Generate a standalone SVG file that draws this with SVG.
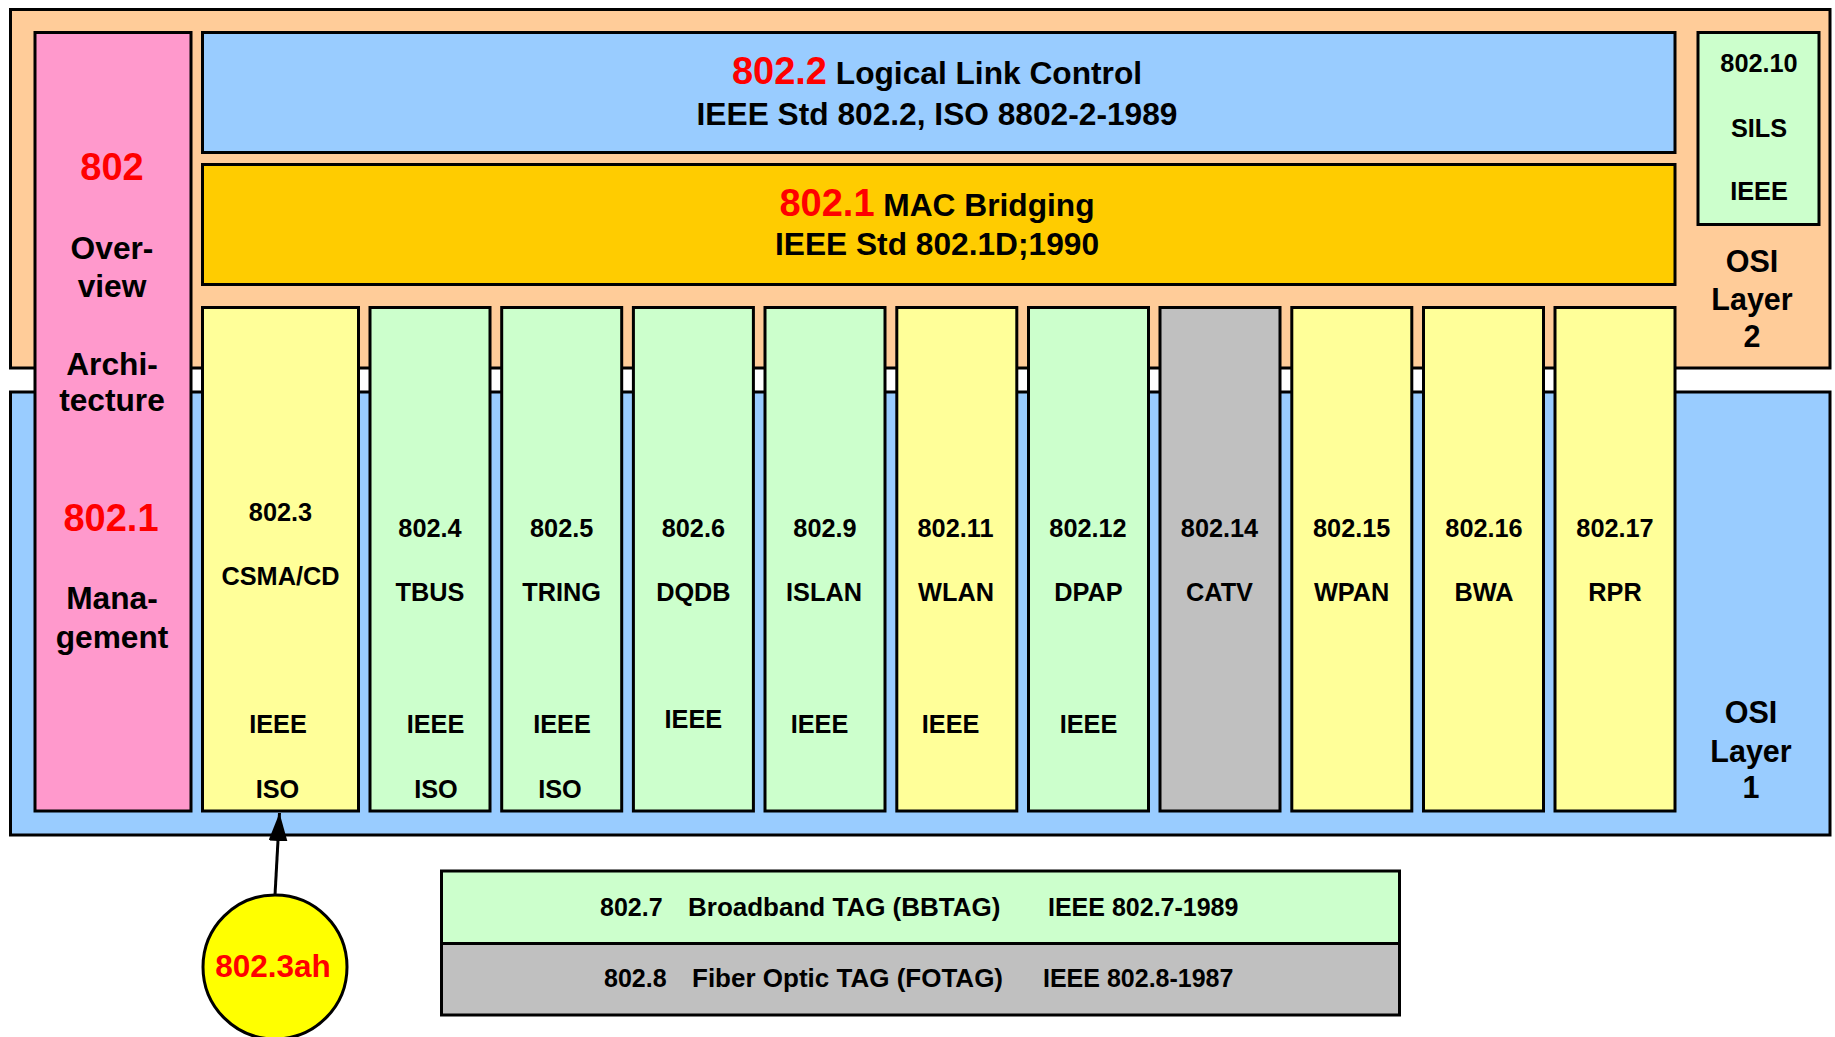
<svg xmlns="http://www.w3.org/2000/svg" width="1835" height="1037" viewBox="0 0 1835 1037">
<style>
.box{stroke:#000;stroke-width:3}
.or{fill:#FFCC99}.bl{fill:#99CCFF}.pk{fill:#FF99CC}.gd{fill:#FFCC00}
.yl{fill:#FFFF99}.gr{fill:#CCFFCC}.gy{fill:#C0C0C0}.cy{fill:#FFFF00}
text{font-family:"Liberation Sans",Arial,Helvetica,sans-serif;font-weight:bold;fill:#000;text-anchor:middle}
.c{font-size:25.3px}
.m{font-size:31.7px}
.o{font-size:30.5px}
.r{fill:#FF0000}
.big{font-size:38px}
.ah{font-size:31.5px}
.tag{font-size:25px;text-anchor:start}
.w{font-size:26px}
</style>
<defs>
<marker id="arr" markerUnits="userSpaceOnUse" markerWidth="30" markerHeight="20" refX="28" refY="9.5" orient="auto">
<path d="M0,0 L28,9.5 L0,19 Z" fill="#000"/>
</marker>
</defs>

<g id="osi-layer2">
<rect class="box or" x="10.5" y="9.5" width="1819.5" height="358.5"/>
<text class="o" x="1752" y="272">OSI</text>
<text class="o" x="1752" y="310">Layer</text>
<text class="o" x="1752" y="347">2</text>
</g>

<g id="osi-layer1">
<rect class="box bl" x="10.5" y="392" width="1819.5" height="443"/>
<text class="o" x="1751" y="723">OSI</text>
<text class="o" x="1751" y="762">Layer</text>
<text class="o" x="1751" y="798">1</text>
</g>

<g id="n802">
<rect class="box pk" x="35" y="32.5" width="156" height="778.5"/>
<text class="big r" x="112" y="180">802</text>
<text class="m" x="112" y="259">Over-</text>
<text class="m" x="112" y="297">view</text>
<text class="m" x="112" y="375">Archi-</text>
<text class="m" x="112" y="411">tecture</text>
<text class="big r" x="111" y="531">802.1</text>
<text class="m" x="112" y="609">Mana-</text>
<text class="m" x="112" y="648">gement</text>
</g>

<g id="n802-2">
<rect class="box bl" x="202.5" y="32.5" width="1472.5" height="120"/>
<text class="m" x="937" y="84"><tspan class="big r">802.2</tspan> Logical Link Control</text>
<text class="m" x="937" y="125">IEEE Std 802.2, ISO 8802-2-1989</text>
</g>

<g id="n802-1">
<rect class="box gd" x="202.5" y="164.5" width="1472.5" height="120"/>
<text class="m" x="937" y="216"><tspan class="big r">802.1</tspan> MAC Bridging</text>
<text class="m" x="937" y="255">IEEE Std 802.1D;1990</text>
</g>

<g id="n802-10">
<rect class="box gr" x="1698" y="32.5" width="121" height="192"/>
<text class="c" x="1759" y="72">802.10</text>
<text class="c" x="1759" y="137">SILS</text>
<text class="c" x="1759" y="200">IEEE</text>
</g>

<g id="n802-3">
<rect class="box yl" x="202.5" y="307.5" width="156" height="503.5"/>
<text class="c" x="280.5" y="521">802.3</text>
<text class="c" x="280.5" y="585">CSMA/CD</text>
<text class="c" x="278" y="733">IEEE</text>
<text class="c" x="277.5" y="798">ISO</text>
</g>

<g id="n802-4">
<rect class="box gr" x="370" y="307.5" width="120" height="503.5"/>
<text class="c" x="430" y="537">802.4</text>
<text class="c" x="430" y="601">TBUS</text>
<text class="c" x="435.5" y="733">IEEE</text>
<text class="c" x="436" y="798">ISO</text>
</g>

<g id="n802-5">
<rect class="box gr" x="501.7" y="307.5" width="120" height="503.5"/>
<text class="c" x="561.7" y="537">802.5</text>
<text class="c" x="561.7" y="601">TRING</text>
<text class="c" x="562" y="733">IEEE</text>
<text class="c" x="560" y="798">ISO</text>
</g>

<g id="n802-6">
<rect class="box gr" x="633.4" y="307.5" width="120" height="503.5"/>
<text class="c" x="693.4" y="537">802.6</text>
<text class="c" x="693.4" y="601">DQDB</text>
<text class="c" x="693.4" y="728">IEEE</text>
</g>

<g id="n802-9">
<rect class="box gr" x="765" y="307.5" width="120" height="503.5"/>
<text class="c" x="825" y="537">802.9</text>
<text class="c" x="824" y="601">ISLAN</text>
<text class="c" x="819.5" y="733">IEEE</text>
</g>

<g id="n802-11">
<rect class="box yl" x="896.8" y="307.5" width="120" height="503.5"/>
<text class="c" x="955.5" y="537">802.11</text>
<text class="c" x="956" y="601">WLAN</text>
<text class="c" x="950.6" y="733">IEEE</text>
</g>

<g id="n802-12">
<rect class="box gr" x="1028.5" y="307.5" width="120" height="503.5"/>
<text class="c" x="1088" y="537">802.12</text>
<text class="c" x="1088.5" y="601">DPAP</text>
<text class="c" x="1088.5" y="733">IEEE</text>
</g>

<g id="n802-14">
<rect class="box gy" x="1160" y="307.5" width="120" height="503.5"/>
<text class="c" x="1219.5" y="537">802.14</text>
<text class="c" x="1219.5" y="601">CATV</text>
</g>

<g id="n802-15">
<rect class="box yl" x="1291.8" y="307.5" width="120" height="503.5"/>
<text class="c" x="1351.7" y="537">802.15</text>
<text class="c" x="1351.7" y="601">WPAN</text>
</g>

<g id="n802-16">
<rect class="box yl" x="1423.5" y="307.5" width="120" height="503.5"/>
<text class="c" x="1484" y="537">802.16</text>
<text class="c" x="1484" y="601">BWA</text>
</g>

<g id="n802-17">
<rect class="box yl" x="1555" y="307.5" width="120" height="503.5"/>
<text class="c" x="1615" y="537">802.17</text>
<text class="c" x="1615" y="601">RPR</text>
</g>

<g id="n802-7">
<rect class="box gr" x="441.5" y="871" width="958" height="72.5"/>
<text class="tag" y="916"><tspan x="600">802.7</tspan><tspan class="w" x="688">Broadband TAG (BBTAG)</tspan><tspan x="1048">IEEE 802.7-1989</tspan></text>
</g>

<g id="n802-8">
<rect class="box gy" x="441.5" y="943.5" width="958" height="71.5"/>
<text class="tag" y="987"><tspan x="604">802.8</tspan><tspan class="w" x="692">Fiber Optic TAG (FOTAG)</tspan><tspan x="1043">IEEE 802.8-1987</tspan></text>
</g>

<g id="n802-3ah">
<circle class="box cy" cx="275" cy="967" r="72"/>
<text class="ah r" x="273" y="977">802.3ah</text>
</g>

<g id="connectors">
<line x1="275" y1="895" x2="279.5" y2="813" stroke="#000" stroke-width="3" marker-end="url(#arr)"/>
</g>
</svg>
